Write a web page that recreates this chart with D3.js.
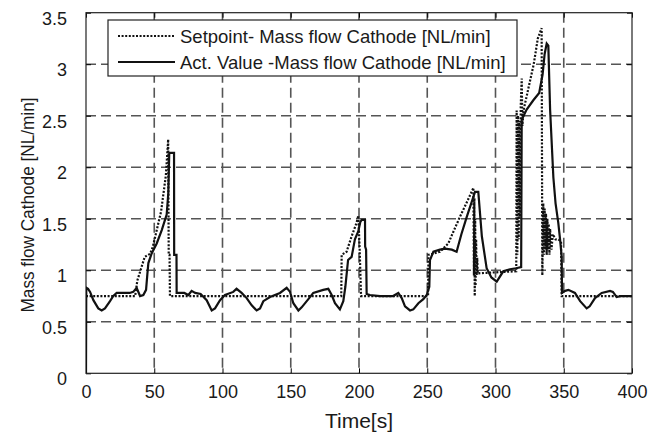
<!DOCTYPE html>
<html>
<head>
<meta charset="utf-8">
<script src="https://cdn.jsdelivr.net/npm/d3@7"></script>
<style>
  body { margin: 0; background: #fff; }
  text { font-family: "Liberation Sans", Arial, sans-serif; fill: #1a1a1a; }
</style>
</head>
<body>
<script>
// Chart data
const xTicks = [0, 50, 100, 150, 200, 250, 300, 350, 400];
const yTicks = [0, 0.5, 1, 1.5, 2, 2.5, 3, 3.5];
const legendLabels = ["Setpoint- Mass flow Cathode [NL/min]", "Act. Value -Mass flow Cathode [NL/min]"];

// [time s, NL/min]
const setpoint = [
  [0,0.75],[36,0.75],[37.6,0.9],[43,1.13],[47,1.16],[49,1.23],[52,1.4],[55,1.57],[58.5,1.92],[60.2,2.27],
  [60.6,1.15],[61.2,1.15],[61.5,0.75],[187,0.75],[187.3,1.15],[190.9,1.18],[194.6,1.33],[198.2,1.46],
  [199.5,1.53],[200.5,1.2],[201.5,0.75],[250.6,0.75],[250.9,1.15],[254,1.16],[259.3,1.18],[265.4,1.26],
  [270,1.4],[274,1.52],[279,1.66],[283.8,1.8],[284.2,0.95],[284.5,1.7],[284.8,0.75],[285.1,1.5],[285.4,0.85],
  [285.8,1.3],[286.2,0.95],[286.6,1.12],[287,0.97],[300,0.98],[315.2,0.99],[315.5,2.55],[316,1.15],
  [316.5,2.5],[317,1.3],[317.5,2.45],[318,1.5],[318.5,2.6],[319.2,2.86],[319.7,2.4],[320.5,2.55],[323,2.7],
  [328,3.0],[331,3.25],[333.8,3.35],[334.3,0.95],[335,1.65],[335.5,1.15],[336,1.6],[336.5,1.2],[337,1.55],
  [337.5,1.15],[338,1.5],[338.5,1.2],[339,1.45],[339.5,1.15],[340,1.4],[341,1.2],[342,1.35],[344,1.3],
  [346,1.3],[348,1.28],[348.5,0.75],[400,0.75]
];

const actual = [
  [0,0],[0.2,0.83],[1.5,0.82],[3,0.79],[5.4,0.71],[9,0.63],[11.5,0.61],[13.9,0.63],[17.6,0.7],[20,0.75],
  [22.5,0.78],[32,0.78],[34.6,0.79],[37.1,0.83],[39.6,0.75],[42,0.76],[44,0.81],[45,0.97],[45.7,1.07],
  [48,1.16],[51.8,1.26],[55.5,1.39],[59.1,1.54],[60.3,1.75],[61,2.14],[64.5,2.14],[64.6,1.15],[66.3,1.15],
  [66.4,0.78],[68.9,0.78],[72,0.78],[75,0.76],[77.4,0.8],[80,0.78],[84,0.77],[88.4,0.71],[92.1,0.61],
  [94.5,0.63],[98.2,0.71],[101.8,0.76],[107.9,0.79],[110.3,0.82],[114,0.78],[117.7,0.73],[121.4,0.66],
  [125,0.61],[127.5,0.63],[129.9,0.7],[134.8,0.74],[142.1,0.78],[147,0.83],[149.5,0.79],[151.9,0.68],
  [155.6,0.61],[158,0.64],[162.9,0.72],[166.5,0.78],[173.8,0.81],[177.5,0.82],[180,0.76],[182.4,0.68],
  [186,0.62],[188.5,0.7],[190,0.84],[192,1.1],[194.6,1.13],[197,1.3],[199.5,1.38],[201,1.47],[202,1.49],
  [204.4,1.49],[204.5,1.23],[205.2,1.2],[205.6,0.77],[208,0.76],[215.4,0.75],[225,0.75],[228.8,0.78],
  [231.3,0.73],[233.7,0.65],[237.4,0.61],[239.8,0.62],[243.5,0.68],[247.1,0.72],[249.6,0.76],[251.5,0.84],
  [252,1.1],[254.5,1.18],[259.3,1.2],[263,1.21],[268,1.2],[271.5,1.18],[275,1.35],[279,1.52],[283,1.68],
  [285,1.76],[287.4,1.76],[290,1.33],[293.5,1.02],[297,0.93],[300.9,0.89],[305.7,0.99],[310.6,1.01],
  [315,1.02],[318.8,1.03],[319.2,2.46],[322.8,2.56],[327.7,2.65],[332,2.72],[334.5,2.9],[336,3.1],
  [337.5,3.2],[338.7,3.18],[340,2.56],[342.4,1.9],[344,1.65],[346,1.46],[347.3,1.3],[348.5,1.13],
  [348.7,0.78],[351,0.8],[353.4,0.81],[358.2,0.78],[362,0.7],[366.8,0.63],[369,0.65],[372.9,0.73],
  [377.8,0.78],[383.9,0.8],[386,0.79],[388.8,0.74],[392,0.75],[400,0.75]
];

const W = 665, H = 433;
const margin = {top: 12.7, right: 33, bottom: 59.7, left: 86};
const width = W - margin.left - margin.right;
const height = H - margin.top - margin.bottom;

const svg = d3.select("body").append("svg")
  .attr("width", W)
  .attr("height", H);

const g = svg.append("g")
  .attr("transform", `translate(${margin.left},${margin.top})`);

const x = d3.scaleLinear().domain([0, 400]).range([0, width]);
const y = d3.scaleLinear().domain([0, 3.5]).range([height, 0]);

//Grid
g.append("g").selectAll("line")
  .data(xTicks.slice(1, -1))
  .join("line")
  .attr("x1", d => x(d)).attr("x2", d => x(d))
  .attr("y1", 0).attr("y2", height)
  .attr("stroke", "#555").attr("stroke-width", 1.6)
  .attr("stroke-dasharray", "10,5");

g.append("g").selectAll("line")
  .data(yTicks.slice(1, -1))
  .join("line")
  .attr("y1", d => y(d)).attr("y2", d => y(d))
  .attr("x1", 0).attr("x2", width)
  .attr("stroke", "#555").attr("stroke-width", 1.6)
  .attr("stroke-dasharray", "10,5");

//Axes
const fs = "18px";
const fmt = d3.format("~g");
const xAxis = g.append("g")
  .attr("transform", `translate(0,${height})`)
  .call(d3.axisBottom(x).tickValues(xTicks).tickFormat(fmt).tickSize(-5).tickPadding(12).tickSizeOuter(0));
xAxis.selectAll("text").style("font-size", fs);

const yAxis = g.append("g")
  .call(d3.axisLeft(y).tickValues(yTicks).tickFormat(fmt).tickSize(-5).tickPadding(19).tickSizeOuter(0));
yAxis.selectAll("text").style("font-size", fs).attr("dy", "0.64em");

g.append("g").call(d3.axisTop(x).tickValues(xTicks).tickSize(-5).tickFormat("").tickSizeOuter(0));
g.append("g").attr("transform", `translate(${width},0)`)
  .call(d3.axisRight(y).tickValues(yTicks).tickSize(-5).tickFormat("").tickSizeOuter(0));
g.selectAll(".domain").remove();

g.append("rect")
  .attr("width", width).attr("height", height)
  .attr("fill", "none").attr("stroke", "#222").attr("stroke-width", 1.2);

//Clip
svg.append("clipPath").attr("id", "clip")
  .append("rect").attr("width", width).attr("height", height);

const line = d3.line().x(d => x(d[0])).y(d => y(d[1]));

const plot = g.append("g").attr("clip-path", "url(#clip)");
plot.append("path").datum(setpoint)
  .attr("d", line).attr("fill", "none")
  .attr("stroke", "#111").attr("stroke-width", 2.2)
  .attr("stroke-dasharray", "2,1.6");
plot.append("path").datum(actual)
  .attr("d", line).attr("fill", "none")
  .attr("stroke", "#111").attr("stroke-width", 2.2);

//Legend
const legend = svg.append("g").attr("transform", "translate(108,20)");
legend.append("rect")
  .attr("width", 409).attr("height", 56)
  .attr("fill", "#fff").attr("stroke", "#222").attr("stroke-width", 1.2);
legendLabels.forEach((lab, i) => {
  const yy = 16 + i * 26;
  legend.append("line")
    .attr("x1", 10).attr("x2", 67).attr("y1", yy).attr("y2", yy)
    .attr("stroke", "#111").attr("stroke-width", 2.2)
    .attr("stroke-dasharray", i === 0 ? "2,1.6" : null);
  legend.append("text")
    .attr("x", 72).attr("y", yy + 6.5)
    .style("font-size", "18.5px")
    .text(lab);
});

//Axis titles
svg.append("text")
  .attr("x", margin.left + width / 2).attr("y", 428)
  .attr("text-anchor", "middle")
  .style("font-size", "21px")
  .text("Time[s]");

svg.append("text")
  .attr("transform", "translate(34,205) rotate(-90)")
  .attr("text-anchor", "middle")
  .attr("textLength", 215)
  .attr("lengthAdjust", "spacingAndGlyphs")
  .style("font-size", "19px")
  .text("Mass flow Cathode [NL/min]");
</script>
</body>
</html>
